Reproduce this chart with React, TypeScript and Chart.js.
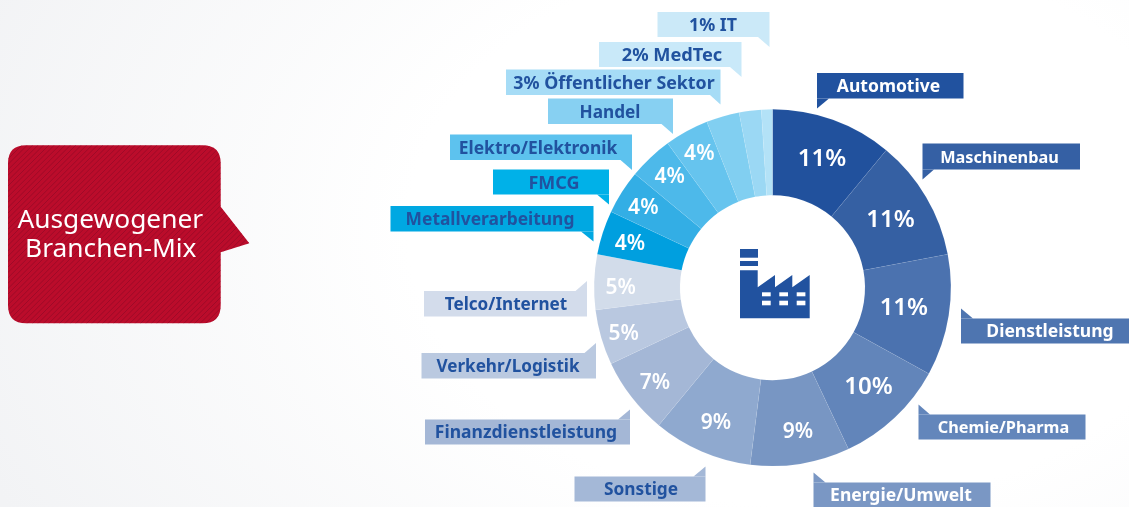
import React, { useEffect, useRef } from "react";
import { Chart, registerables } from "chart.js";

Chart.register(...registerables);

const categories = [
  "Automotive", "Maschinenbau", "Dienstleistung", "Chemie/Pharma", "Energie/Umwelt", "Sonstige",
  "Finanzdienstleistung", "Verkehr/Logistik", "Telco/Internet", "Metallverarbeitung", "FMCG",
  "Elektro/Elektronik", "Handel", "Öffentlicher Sektor", "MedTec", "IT",
];
const shares = [11, 11, 11, 10, 9, 9, 7, 5, 5, 4, 4, 4, 4, 3, 2, 1];
const sliceColors = [
  "#21519d", "#3560a3", "#4b72af", "#6285ba", "#7896c3", "#8fa9cf", "#a4b7d6", "#b9c8e0",
  "#d2dcea", "#009fdf", "#33aee5", "#4db9ea", "#66c4ee", "#81cff1", "#9bd8f4", "#b3e2f7",
];
// distance of the in-slice percentage from the centre; null = shown in the callout instead
const labelRadii = [140, 137, 133, 136, 144, 145, 150, 155, 152, 151, 153, 153, 154, null, null, null];
const labelNudgeX = [2, 0, 0, 3, 3, 1, 1, 0, 0, 1, 0, 2, 1, 0, 0, 0];
const labelNudgeY = [1, 0, -3, -2, 0, 0, 1, 1, 3, 0, 0, -2, -1, 0, 0, 0];

const bubbleLines = ["Ausgewogener", "Branchen-Mix"];
const INK = "#21529f";

type Callout = {
  text: string; x0: number; x1: number; y0: number; y1: number;
  tailX: number; tailY: number; neckX: number; textX: number; size: number; fill: string; ink: string;
};
const callouts: Callout[] = [
  { text: "1% IT", x0: 657.5, x1: 769.5, y0: 12, y1: 37, tailX: 769.5, tailY: 47, neckX: 758, textX: 713, size: 17.8, fill: "#cbe9f8", ink: INK },
  { text: "2% MedTec", x0: 599, x1: 741.5, y0: 42, y1: 67, tailX: 741.5, tailY: 77, neckX: 730, textX: 672, size: 18.2, fill: "#c9e9f9", ink: INK },
  { text: "3% Öffentlicher Sektor", x0: 506, x1: 720.5, y0: 69.5, y1: 95, tailX: 720.5, tailY: 104.5, neckX: 710, textX: 614, size: 17.8, fill: "#a6dcf6", ink: INK },
  { text: categories[12], x0: 548, x1: 673, y0: 98.5, y1: 124, tailX: 673, tailY: 134, neckX: 661.5, textX: 610, size: 17.2, fill: "#87d0f2", ink: INK },
  { text: categories[11], x0: 450, x1: 632, y0: 134.5, y1: 160, tailX: 632, tailY: 170, neckX: 620.5, textX: 538, size: 17.4, fill: "#5dc2ee", ink: INK },
  { text: categories[10], x0: 493, x1: 609, y0: 169.5, y1: 194.5, tailX: 609, tailY: 204.5, neckX: 597, textX: 554, size: 18, fill: "#00b1e8", ink: INK },
  { text: categories[9], x0: 390.5, x1: 593.5, y0: 206, y1: 231.5, tailX: 593.5, tailY: 241.5, neckX: 581, textX: 490, size: 17.4, fill: "#00a8e2", ink: INK },
  { text: categories[8], x0: 424, x1: 587, y0: 291, y1: 316.5, tailX: 587, tailY: 281, neckX: 575.5, textX: 506, size: 17.1, fill: "#d3dceb", ink: INK },
  { text: categories[7], x0: 421.5, x1: 596, y0: 353, y1: 378.5, tailX: 596, tailY: 343, neckX: 584.5, textX: 508, size: 17.1, fill: "#bac9e0", ink: INK },
  { text: categories[6], x0: 425, x1: 630, y0: 419.5, y1: 444.5, tailX: 630, tailY: 409.5, neckX: 618, textX: 526, size: 17.5, fill: "#a4b7d6", ink: INK },
  { text: categories[5], x0: 574.5, x1: 705.5, y0: 476.5, y1: 501.5, tailX: 705.5, tailY: 466.5, neckX: 693.5, textX: 641, size: 17.3, fill: "#a4b8d7", ink: INK },
  { text: categories[0], x0: 817, x1: 963.5, y0: 73, y1: 98.5, tailX: 817, tailY: 108.5, neckX: 829, textX: 888.5, size: 17.5, fill: "#21529f", ink: "#ffffff" },
  { text: categories[1], x0: 922.5, x1: 1080, y0: 143.5, y1: 169.5, tailX: 922.5, tailY: 179.5, neckX: 934, textX: 999.5, size: 16.3, fill: "#3560a4", ink: "#ffffff" },
  { text: categories[2], x0: 961, x1: 1129, y0: 318.5, y1: 343.5, tailX: 961, tailY: 308.5, neckX: 973, textX: 1050, size: 17.5, fill: "#4e75b0", ink: "#ffffff" },
  { text: categories[3], x0: 918.5, x1: 1085.5, y0: 414.5, y1: 439.5, tailX: 918.5, tailY: 404.5, neckX: 930, textX: 1003.5, size: 16.3, fill: "#6386bb", ink: "#ffffff" },
  { text: categories[4], x0: 813.5, x1: 990.5, y0: 482.5, y1: 507, tailX: 813.5, tailY: 472.5, neckX: 825.5, textX: 901, size: 17.5, fill: "#7a97c4", ink: "#ffffff" },
];

const FONT = '"Noto Sans", "Open Sans", sans-serif';

function drawBubble(ctx: CanvasRenderingContext2D) {
  const x0 = 8, x1 = 220.7, y0 = 145.3, y1 = 323.3, r = 18;
  ctx.save();
  ctx.beginPath();
  ctx.moveTo(x0 + r, y0);
  ctx.lineTo(x1 - r, y0);
  ctx.quadraticCurveTo(x1, y0, x1, y0 + r);
  ctx.lineTo(x1, 206.7);
  ctx.lineTo(249.3, 243.3);
  ctx.lineTo(x1, 252.3);
  ctx.lineTo(x1, y1 - r);
  ctx.quadraticCurveTo(x1, y1, x1 - r, y1);
  ctx.lineTo(x0 + r, y1);
  ctx.quadraticCurveTo(x0, y1, x0, y1 - r);
  ctx.lineTo(x0, y0 + r);
  ctx.quadraticCurveTo(x0, y0, x0 + r, y0);
  ctx.closePath();
  ctx.fillStyle = "#bb0c2b";
  ctx.fill();
  ctx.clip();
  ctx.strokeStyle = "rgba(120,10,35,0.42)";
  ctx.lineWidth = 1;
  for (let s = 140; s < 600; s += 5.4) {
    ctx.beginPath();
    ctx.moveTo(0, s);
    ctx.lineTo(s, 0);
    ctx.stroke();
  }
  ctx.restore();
  ctx.save();
  ctx.fillStyle = "#ffffff";
  ctx.font = `400 26.3px ${FONT}`;
  ctx.textAlign = "center";
  ctx.textBaseline = "alphabetic";
  ctx.fillText(bubbleLines[0], 110.3, 227.5);
  ctx.fillText(bubbleLines[1], 110.8, 257);
  ctx.restore();
}

function drawCallout(ctx: CanvasRenderingContext2D, c: Callout) {
  const down = c.tailY > c.y1;
  const edge = down ? c.y1 : c.y0;
  ctx.fillStyle = c.fill;
  ctx.fillRect(c.x0, c.y0, c.x1 - c.x0, c.y1 - c.y0);
  ctx.beginPath();
  ctx.moveTo(c.tailX, edge);
  ctx.lineTo(c.tailX, c.tailY);
  ctx.lineTo(c.neckX, edge);
  ctx.closePath();
  ctx.fill();
  ctx.fillStyle = c.ink;
  ctx.font = `700 ${c.size}px ${FONT}`;
  ctx.textAlign = "center";
  ctx.textBaseline = "middle";
  ctx.fillText(c.text, c.textX, (c.y0 + c.y1) / 2 + 1.5);
}

function drawFactory(ctx: CanvasRenderingContext2D) {
  ctx.fillStyle = INK;
  ctx.fillRect(740, 249, 18, 8.7);
  ctx.fillRect(740, 261, 18, 5);
  ctx.beginPath();
  ctx.moveTo(740, 270.3);
  ctx.lineTo(757.7, 270.3);
  ctx.lineTo(757.7, 287.3);
  ctx.lineTo(775, 275);
  ctx.lineTo(775, 287.3);
  ctx.lineTo(792.3, 275);
  ctx.lineTo(792.3, 287.3);
  ctx.lineTo(809.7, 275);
  ctx.lineTo(809.7, 318.3);
  ctx.lineTo(740, 318.3);
  ctx.closePath();
  ctx.fill();
  ctx.fillStyle = "#ffffff";
  for (const x of [762, 779.3, 796.7]) {
    ctx.fillRect(x, 292.3, 8.7, 4);
    ctx.fillRect(x, 300.7, 8.7, 4.6);
  }
}

const decorations = {
  id: "decorations",
  afterDatasetsDraw(chart: any) {
    const ctx: CanvasRenderingContext2D = chart.ctx;
    ctx.save();
    drawBubble(ctx);
    callouts.forEach((c) => drawCallout(ctx, c));
    drawFactory(ctx);
    const arcs = chart.getDatasetMeta(0).data;
    ctx.fillStyle = "#ffffff";
    ctx.textAlign = "center";
    ctx.textBaseline = "middle";
    arcs.forEach((arc: any, i: number) => {
      const radius = labelRadii[i];
      if (radius === null) return;
      const mid = (arc.startAngle + arc.endAngle) / 2;
      ctx.font = `600 ${shares[i] >= 10 ? 24 : 21}px ${FONT}`;
      ctx.fillText(
        `${shares[i]}%`,
        arc.x + Math.cos(mid) * radius + labelNudgeX[i],
        arc.y + Math.sin(mid) * radius + 2.5 + labelNudgeY[i],
      );
    });
    ctx.restore();
  },
};

export default function App() {
  const ref = useRef<HTMLCanvasElement>(null);
  useEffect(() => {
    const chart = new Chart(ref.current!, {
      type: "doughnut",
      data: {
        labels: categories,
        datasets: [{ data: shares, backgroundColor: sliceColors, borderColor: "rgba(255,255,255,0.1)", borderWidth: 0.6 }],
      },
      options: {
        animation: false,
        responsive: false,
        cutout: 92.5,
        layout: { padding: { top: 109, bottom: 40.6, left: 593.7, right: 177.7 } },
        plugins: { legend: { display: false }, tooltip: { enabled: false } },
      },
      plugins: [decorations],
    } as any);
    return () => chart.destroy();
  }, []);
  return (
    <div
      style={{
        position: "fixed", left: 0, top: 0, width: 1129, height: 507, overflow: "hidden",
        background: "radial-gradient(ellipse 900px 620px at 72% 45%, #ffffff 45%, #f2f3f5 100%)",
      }}
    >
      <canvas ref={ref} width={1129} height={507} style={{ display: "block" }} />
    </div>
  );
}
